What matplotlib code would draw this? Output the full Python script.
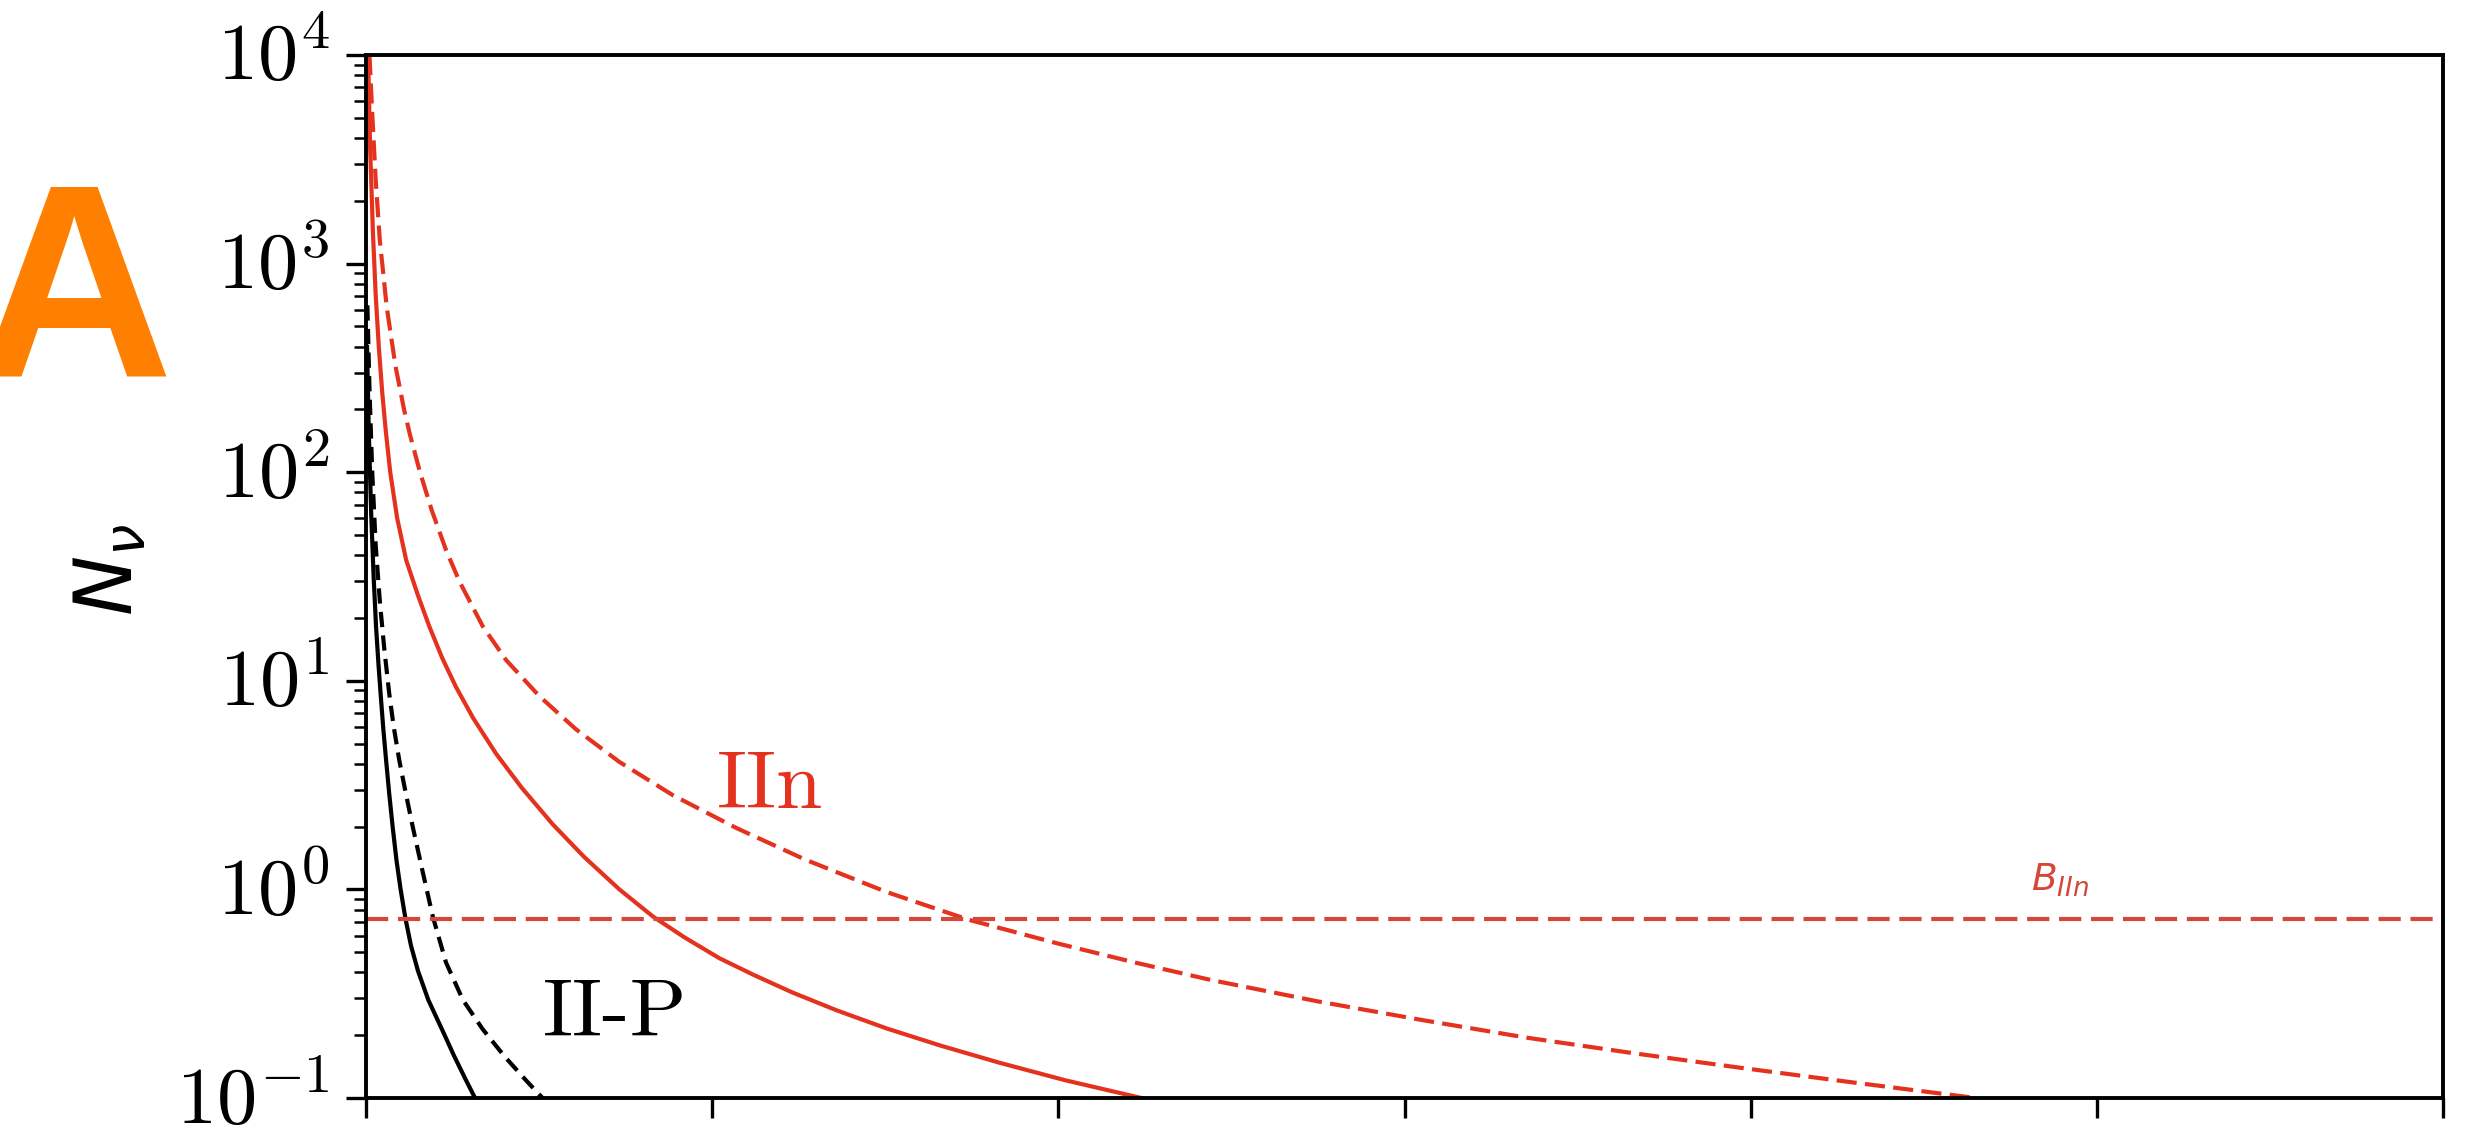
import numpy as np
import matplotlib
matplotlib.use("Agg")
from matplotlib import pyplot as plt
from matplotlib import transforms
from matplotlib.ticker import FuncFormatter, NullFormatter, LogLocator

plt.rcParams['mathtext.fontset'] = 'cm'
plt.rcParams['lines.scale_dashes'] = False

# values: x position (tick units 0..6) and log10(N_nu)
iip_solid_x = [0.003, 0.008, 0.015, 0.022, 0.029, 0.036, 0.043, 0.05, 0.058, 0.067,
               0.077, 0.088, 0.1, 0.114, 0.13, 0.15, 0.18, 0.222, 0.255, 0.289, 0.315]
iip_solid_logn = [2.6, 2.2, 1.8, 1.5, 1.26, 1.08, 0.92, 0.77, 0.62, 0.46,
                  0.30, 0.14, 0.0, -0.14, -0.27, -0.39, -0.53, -0.68, -0.8, -0.915, -1.0]

iip_dash_x = [0.004, 0.01, 0.018, 0.028, 0.04, 0.053, 0.067, 0.08, 0.096, 0.115,
              0.135, 0.163, 0.193, 0.231, 0.28, 0.337, 0.4, 0.462, 0.51]
iip_dash_logn = [2.8, 2.4, 2.0, 1.65, 1.38, 1.15, 0.94, 0.78, 0.62, 0.46,
                 0.30, 0.09, -0.13, -0.35, -0.53, -0.67, -0.8, -0.915, -1.0]

iin_solid_x = [0.006, 0.012, 0.02, 0.028, 0.037, 0.047, 0.057, 0.07, 0.09, 0.116,
               0.15, 0.183, 0.22, 0.26, 0.31, 0.376, 0.45, 0.54, 0.63, 0.732,
               0.829, 0.92, 1.021, 1.12, 1.233, 1.36, 1.503, 1.66, 1.83, 2.02, 2.24]
iin_solid_logn = [4.0, 3.55, 3.15, 2.85, 2.6, 2.38, 2.2, 2.0, 1.78, 1.579,
                  1.41, 1.26, 1.11, 0.97, 0.82, 0.65, 0.487, 0.311, 0.156, 0.0,
                  -0.13, -0.23, -0.33, -0.41, -0.495, -0.58, -0.666, -0.749, -0.831, -0.915, -1.0]

iin_dash_x = [0.01, 0.018, 0.028, 0.04, 0.06, 0.085, 0.11, 0.127, 0.156, 0.19,
              0.231, 0.27, 0.337, 0.405, 0.501, 0.607, 0.732, 0.886, 1.069, 1.27,
              1.503, 1.74, 2.0, 2.22, 2.44, 2.75, 3.05, 3.35, 3.66, 3.97, 4.27, 4.65]
iin_dash_logn = [4.0, 3.72, 3.40, 3.11, 2.79, 2.51, 2.3, 2.18, 2.0, 1.817,
                 1.628, 1.476, 1.262, 1.099, 0.926, 0.767, 0.611, 0.452, 0.295, 0.142,
                 -0.012, -0.145, -0.26, -0.35, -0.434, -0.537, -0.626, -0.71, -0.785, -0.855, -0.92, -1.0]

b_iin = 0.72
x_ticks = [0, 1, 2, 3, 4, 5, 6]

red = '#e5321e'
line_red = '#d4483a'

fig = plt.figure(figsize=(24.71, 11.37), dpi=100)
ax = fig.add_axes([366 / 2471, 39 / 1137, 2077 / 2471, 1043 / 1137])

ax.plot(iip_solid_x, np.power(10.0, iip_solid_logn), '-', color='black', lw=3)
ax.plot(iip_dash_x, np.power(10.0, iip_dash_logn), color='black', lw=3,
        linestyle=(0, (11, 6)))
ax.plot(iin_solid_x, np.power(10.0, iin_solid_logn), '-', color=red, lw=3)
ax.plot(iin_dash_x, np.power(10.0, iin_dash_logn), color=red, lw=3,
        linestyle=(0, (14.5, 6)))
ax.axhline(b_iin, color=line_red, lw=3, linestyle=(0, (16, 7)))

ax.set_yscale('log')
ax.set_ylim(0.1, 1e4)
ax.set_xlim(0, 6)
ax.set_xticks(x_ticks)
ax.set_xticklabels([])
ax.yaxis.set_major_locator(LogLocator(base=10, numticks=10))
ax.yaxis.set_minor_locator(LogLocator(base=10, subs=np.arange(2, 10), numticks=20))
ax.yaxis.set_major_formatter(FuncFormatter(lambda v, p: r'$10^{%d}$' % round(np.log10(v))))
ax.yaxis.set_minor_formatter(NullFormatter())
ax.tick_params(which='major', length=14.4, width=2.4, labelsize=58, pad=12)
ax.tick_params(which='minor', length=8.6, width=1.8)
for s in ax.spines.values():
    s.set_linewidth(2.8)

# nudge the y tick labels up a little so the lowest one stays inside the picture
lift = transforms.ScaledTranslation(0, 5 / 100, fig.dpi_scale_trans)
for tick in ax.yaxis.get_major_ticks():
    tick.label1.set_transform(tick.label1.get_transform() + lift)

ax.text(1.014, 2.45, 'IIn', fontsize=60, color=red, family='cmr10',
        ha='left', va='baseline')
ax.text(0.512, 0.2, 'II-P', fontsize=60, color='black', family='cmr10',
        ha='left', va='baseline')
ax.text(4.81, 0.99, r'$B_{IIn}$', fontsize=27, color=line_red,
        math_fontfamily='dejavusans', ha='left', va='baseline')

fig.text(111 / 2471, 1 - 570 / 1137, r'$N_\nu$', fontsize=58, rotation=90,
         math_fontfamily='dejavusans', ha='center', va='center')
fig.text(-0.0105, 1 - 375 / 1137, 'A', fontsize=198, fontweight='bold',
         color='#ff7f00', family='Liberation Sans', ha='left', va='baseline')

fig.savefig('out.png', dpi=100)
